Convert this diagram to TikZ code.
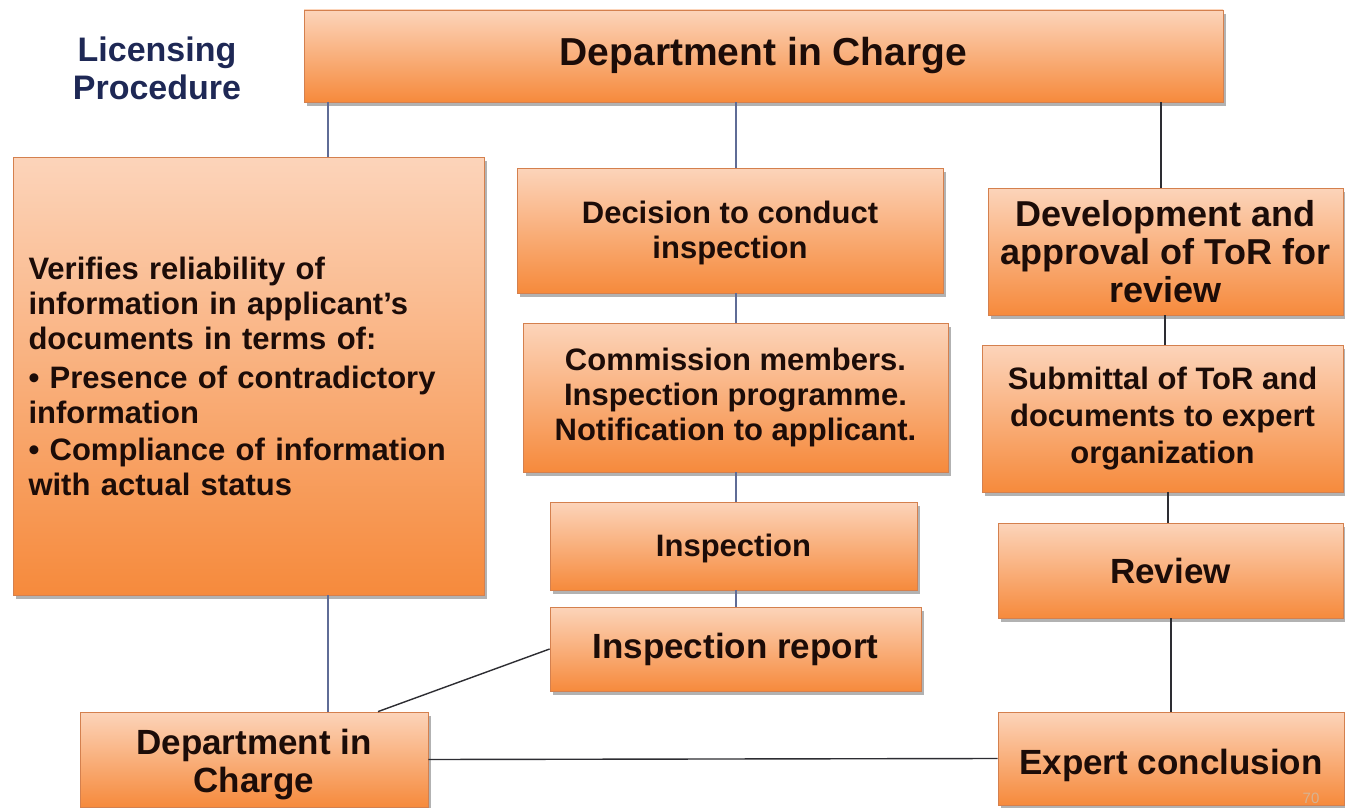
\documentclass[tikz,border=0pt]{standalone}
\usepackage{fontspec}
\setmainfont{Liberation Sans}
\usetikzlibrary{shadows}
\definecolor{boxtop}{RGB}{252,212,186}
\definecolor{boxbot}{RGB}{246,138,60}
\definecolor{boxline}{RGB}{212,128,78}
\definecolor{navy}{RGB}{30,40,85}
\definecolor{txt}{RGB}{28,12,8}
\definecolor{linkblue}{RGB}{95,108,150}
\definecolor{linkdark}{RGB}{45,45,50}
\definecolor{pgcol}{RGB}{215,178,145}
\tikzset{
  box/.style={draw=boxline, line width=0.8pt, top color=boxtop, bottom color=boxbot,
    drop shadow={shadow xshift=3pt, shadow yshift=-4pt, opacity=0.4, fill=black!75},
    inner sep=0pt, align=center, text=txt, font=\bfseries\fontsize{31}{35}\selectfont},
  bigfont/.style={font=\bfseries\fontsize{35}{38}\selectfont},
  linkb/.style={draw=linkblue, line width=1.3pt},
  linkd/.style={draw=linkdark, line width=1.4pt},
}
\begin{document}
\begin{tikzpicture}[x=1pt,y=-1pt]
\fill[white] (0,0) rectangle (1345,808);
\useasboundingbox (0,0) rectangle (1345,808);

\node[font=\bfseries\fontsize{34}{38}\selectfont, text=navy, align=center] (title) at (157,68) {Licensing\\Procedure};

\node[box, font=\bfseries\fontsize{39}{40}\selectfont, minimum width=919pt, minimum height=92pt] (top) at (763.5,56) {Department in Charge};

\node[box, minimum width=471pt, minimum height=438pt, align=left, text width=440pt] (left) at (248.5,376)
  {Verifies reliability of\\ information in applicant's\\ documents in terms of:\\[4pt] • Presence of contradictory\\ information\\[2pt] • Compliance of information\\ with actual status};

\node[box, minimum width=426pt, minimum height=125pt] (decision) at (730,230.5) {\rule{0pt}{28pt}Decision to conduct\\ inspection};
\node[box, minimum width=425pt, minimum height=149pt] (commission) at (735.5,397.5) {Commission members.\\ Inspection programme.\\ Notification to applicant.};
\node[box, minimum width=367pt, minimum height=88pt] (inspection) at (733.5,546) {\rule{0pt}{28pt}Inspection};
\node[box, bigfont, minimum width=371pt, minimum height=84pt] (report) at (735.5,649) {Inspection report};

\node[box, font=\bfseries\fontsize{36}{38}\selectfont, minimum width=355pt, minimum height=127pt] (development) at (1165.5,251.5) {Development and\\ approval of ToR for\\ review};
\node[box, minimum width=361pt, minimum height=147pt, font=\bfseries\fontsize{31}{37}\selectfont] (submittal) at (1162.5,418.5) {Submittal of ToR and\\ documents to expert\\ organization};
\node[box, bigfont, minimum width=345pt, minimum height=95pt] (review) at (1170.5,570.5) {Review};

\node[box, bigfont, minimum width=348pt, minimum height=95pt] (dept2) at (254,759.5) {\rule{0pt}{35pt}Department in\\ Charge};
\node[box, bigfont, minimum width=346pt, minimum height=93pt] (expert) at (1171,758.5) {\rule{0pt}{39pt}Expert conclusion};

\node[text=pgcol, font=\fontsize{15}{15}\selectfont] (pgnum) at (1311,798) {70};

\coordinate (xa) at (328,0);
\coordinate (xb) at (736,0);
\coordinate (xc) at (1161,0);
\coordinate (xd) at (1165,0);
\coordinate (xe) at (1168,0);
\coordinate (xf) at (1171,0);
\coordinate (xg) at (378,0);

\draw[linkb] (top.south -| xa) -- (left.north -| xa);
\draw[linkb] (left.south -| xa) -- (dept2.north -| xa);
\draw[linkb] (top.south -| xb) -- (decision.north -| xb);
\draw[linkb] (decision.south -| xb) -- (commission.north -| xb);
\draw[linkb] (commission.south -| xb) -- (inspection.north -| xb);
\draw[linkb] (inspection.south -| xb) -- (report.north -| xb);
\draw[linkd] (top.south -| xc) -- (development.north -| xc);
\draw[linkd] (development.south -| xd) -- (submittal.north -| xd);
\draw[linkd] (submittal.south -| xe) -- (review.north -| xe);
\draw[linkd] (review.south -| xf) -- (expert.north -| xf);
\draw[linkd] (report.west) -- (dept2.north -| xg);
\draw[linkd] (dept2.east) -- (expert.west);
\end{tikzpicture}
\end{document}
